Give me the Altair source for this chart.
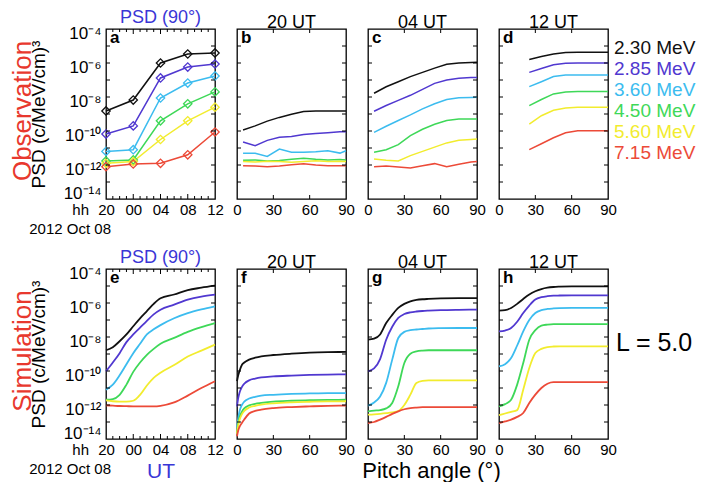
import altair as alt
import pandas as pd

FONT = "Liberation Sans"
ENERGIES = ["2.30 MeV", "2.85 MeV", "3.60 MeV", "4.50 MeV", "5.60 MeV", "7.15 MeV"]
COLORS = ["#111111", "#5038d0", "#3cbcef", "#3ed858", "#f2ec2e", "#ec4a38"]
BLUE = "#3a36d6"
RED = "#e8382e"

# ---- panel a: observed PSD at 90 deg vs time (log10 PSD) ----
A_HOURS = [20, 24, 28, 32, 36]
A_LOG = {
    "2.30 MeV": [-8.82, -8.18, -6.0, -5.47, -5.41],
    "2.85 MeV": [-10.18, -9.7, -6.88, -6.24, -6.06],
    "3.60 MeV": [-11.2, -11.1, -8.06, -7.18, -6.76],
    "4.50 MeV": [-11.76, -11.7, -9.4, -8.4, -7.7],
    "5.60 MeV": [-11.9, -11.8, -10.5, -9.4, -8.6],
    "7.15 MeV": [-12.1, -11.94, -11.9, -11.4, -10.06],
}
# ---- panel b: observed, 20 UT ----
B_PITCH = [5, 15, 25, 35, 45, 55, 65, 75, 85, 90]
B_LOG = {
    "2.30 MeV": [-9.94, -9.7, -9.42, -9.2, -9.02, -8.86, -8.82, -8.82, -8.82, -8.82],
    "2.85 MeV": [-10.65, -10.86, -10.55, -10.37, -10.33, -10.2, -10.15, -10.1, -10.05, -10.04],
    "3.60 MeV": [-11.31, -11.31, -11.5, -11.06, -11.25, -11.25, -11.22, -11.16, -11.3, -11.16],
    "4.50 MeV": [-11.72, -11.7, -11.76, -11.74, -11.66, -11.6, -11.66, -11.7, -11.68, -11.7],
    "5.60 MeV": [-11.8, -11.82, -11.78, -11.8, -11.84, -11.8, -11.75, -11.8, -11.78, -11.8],
    "7.15 MeV": [-12.04, -12.06, -12.1, -12.06, -11.98, -11.92, -12.0, -12.04, -12.04, -12.04],
}
# ---- panel c: observed, 04 UT ----
C_PITCH = [5, 15, 25, 35, 45, 55, 65, 75, 85, 90]
C_LOG = {
    "2.30 MeV": [-7.78, -7.4, -7.1, -6.8, -6.55, -6.3, -6.08, -6.0, -5.97, -5.96],
    "2.85 MeV": [-8.84, -8.5, -8.2, -7.9, -7.55, -7.2, -7.0, -6.9, -6.86, -6.85],
    "3.60 MeV": [-10.08, -9.72, -9.38, -9.05, -8.7, -8.4, -8.15, -8.05, -8.03, -8.02],
    "4.50 MeV": [-11.25, -11.1, -10.8, -10.27, -9.9, -9.6, -9.38, -9.3, -9.3, -9.3],
    "5.60 MeV": [-11.65, -11.72, -11.76, -11.45, -11.2, -10.95, -10.7, -10.55, -10.5, -10.47],
    "7.15 MeV": [-12.1, -12.06, -12.12, -12.18, -12.05, -11.92, -12.1, -11.95, -11.82, -11.8],
}
# ---- panel d: observed, 12 UT ----
D_PITCH = [25, 35, 45, 55, 65, 75, 90]
D_LOG = {
    "2.30 MeV": [-5.8, -5.62, -5.47, -5.38, -5.37, -5.37, -5.37],
    "2.85 MeV": [-6.55, -6.32, -6.1, -6.02, -6.0, -6.0, -6.0],
    "3.60 MeV": [-7.39, -7.1, -6.8, -6.7, -6.7, -6.7, -6.7],
    "4.50 MeV": [-8.51, -8.15, -7.82, -7.7, -7.67, -7.67, -7.67],
    "5.60 MeV": [-9.6, -9.1, -8.78, -8.65, -8.6, -8.6, -8.6],
    "7.15 MeV": [-11.1, -10.75, -10.4, -10.1, -9.98, -9.98, -9.98],
}
# ---- panel e: simulated PSD at 90 deg vs time ----
E_HOURS = [20, 21, 22, 23, 24, 25, 26, 27, 28, 30, 32, 34, 36]
E_LOG = {
    "2.30 MeV": [-8.78, -8.6, -8.25, -7.85, -7.37, -6.9, -6.48, -6.05, -5.72, -5.5, -5.24, -5.1, -4.98],
    "2.85 MeV": [-10.02, -9.5, -8.95, -8.3, -7.85, -7.45, -7.05, -6.67, -6.4, -6.1, -5.8, -5.62, -5.51],
    "3.60 MeV": [-11.1, -10.8, -10.25, -9.6, -8.95, -8.4, -7.85, -7.55, -7.3, -6.9, -6.6, -6.38, -6.2],
    "4.50 MeV": [-11.69, -11.65, -11.4, -10.8, -10.05, -9.5, -9.05, -8.7, -8.4, -8.05, -7.7, -7.42, -7.18],
    "5.60 MeV": [-11.73, -11.78, -11.8, -11.8, -11.75, -11.4, -10.85, -10.4, -10.1, -9.65, -9.15, -8.8, -8.45],
    "7.15 MeV": [-12.02, -12.04, -12.06, -12.07, -12.08, -12.08, -12.08, -12.08, -12.05, -11.85, -11.45, -11.0, -10.6],
}
# ---- panel f: simulated, 20 UT ----
F_PITCH = [0, 1, 2, 4, 6, 10, 15, 20, 30, 45, 60, 75, 90]
F_LOG = {
    "2.30 MeV": [-10.6, -10.25, -10.02, -9.65, -9.5, -9.33, -9.22, -9.14, -9.06, -8.98, -8.92, -8.89, -8.88],
    "2.85 MeV": [-12.08, -11.6, -11.3, -10.95, -10.75, -10.55, -10.45, -10.38, -10.32, -10.27, -10.23, -10.21, -10.2],
    "3.60 MeV": [-13.35, -12.8, -12.4, -12.0, -11.8, -11.62, -11.52, -11.45, -11.4, -11.35, -11.32, -11.3, -11.3],
    "4.50 MeV": [-13.65, -13.1, -12.75, -12.4, -12.2, -12.02, -11.93, -11.88, -11.8, -11.75, -11.72, -11.7, -11.69],
    "5.60 MeV": [-13.7, -13.2, -12.9, -12.55, -12.35, -12.15, -12.05, -11.98, -11.9, -11.84, -11.81, -11.79, -11.78],
    "7.15 MeV": [-13.84, -13.5, -13.3, -13.06, -12.85, -12.5, -12.35, -12.27, -12.18, -12.12, -12.08, -12.05, -12.04],
}
# ---- panel g: simulated, 04 UT ----
G_PITCH = [0, 5, 10, 15, 20, 25, 30, 35, 40, 45, 50, 60, 75, 90]
G_LOG = {
    "2.30 MeV": [-8.16, -8.1, -7.85, -7.18, -6.7, -6.29, -6.05, -5.9, -5.82, -5.78, -5.76, -5.73, -5.71, -5.71],
    "2.85 MeV": [-10.02, -9.85, -9.3, -8.16, -7.4, -6.88, -6.65, -6.55, -6.5, -6.47, -6.45, -6.42, -6.4, -6.39],
    "3.60 MeV": [-12.04, -11.85, -11.5, -10.7, -9.33, -8.06, -7.7, -7.6, -7.56, -7.53, -7.5, -7.48, -7.47, -7.47],
    "4.50 MeV": [-12.37, -12.33, -12.3, -12.2, -11.88, -10.9, -9.53, -8.98, -8.85, -8.8, -8.78, -8.78, -8.78, -8.78],
    "5.60 MeV": [-12.57, -12.55, -12.52, -12.48, -12.43, -12.35, -12.0, -11.39, -10.7, -10.58, -10.55, -10.55, -10.55, -10.55],
    "7.15 MeV": [-13.06, -13.0, -12.86, -12.7, -12.52, -12.37, -12.25, -12.18, -12.15, -12.13, -12.12, -12.12, -12.12, -12.12],
}
# ---- panel h: simulated, 12 UT ----
H_PITCH = [0, 5, 10, 15, 20, 25, 30, 35, 40, 45, 50, 60, 75, 90]
H_LOG = {
    "2.30 MeV": [-6.45, -6.42, -6.29, -6.05, -5.76, -5.5, -5.31, -5.18, -5.1, -5.06, -5.04, -5.02, -5.02, -5.02],
    "2.85 MeV": [-7.67, -7.62, -7.47, -7.1, -6.59, -6.15, -5.8, -5.66, -5.6, -5.57, -5.56, -5.55, -5.55, -5.55],
    "3.60 MeV": [-9.73, -9.6, -9.24, -8.5, -7.67, -7.0, -6.59, -6.42, -6.35, -6.32, -6.3, -6.29, -6.29, -6.29],
    "4.50 MeV": [-12.08, -11.95, -11.69, -10.8, -9.53, -8.16, -7.6, -7.33, -7.27, -7.24, -7.24, -7.24, -7.24, -7.24],
    "5.60 MeV": [-12.6, -12.5, -12.4, -12.3, -11.1, -9.82, -8.94, -8.7, -8.59, -8.56, -8.55, -8.55, -8.55, -8.55],
    "7.15 MeV": [-13.06, -12.97, -12.86, -12.7, -12.47, -11.88, -11.39, -11.0, -10.75, -10.66, -10.66, -10.66, -10.66, -10.66],
}

TIME_LABELS = [20, 24, 28, 32, 36]
TIME_MAJOR = [24, 28, 32]
TIME_MINOR = [21, 22, 23, 25, 26, 27, 29, 30, 31, 33, 34, 35]
PITCH_LABELS = [0, 30, 60, 90]
PITCH_TICKS = [30, 60]
Y_LABELS = [1e-14, 1e-12, 1e-10, 1e-8, 1e-6, 1e-4]
Y_TICKS = [1e-13, 1e-12, 1e-11, 1e-10, 1e-9, 1e-8, 1e-7, 1e-6, 1e-5]
ROW_NAMES = ["Observation", "Simulation"]
TITLES_TOP = ["PSD (90°)", "20 UT", "04 UT", "12 UT"]


def long_df(xs, logs):
    rows = []
    for e, vals in logs.items():
        for x, v in zip(xs, vals):
            rows.append({"x": x, "psd": 10.0 ** v, "energy": e})
    return pd.DataFrame(rows)


W, H = 109, 170
YSCALE = alt.Scale(type="log", domain=[1e-14, 1e-4], nice=False)
CSCALE = alt.Scale(domain=ENERGIES, range=COLORS)
TIME_SCALE = alt.Scale(domain=[20, 36], nice=False, zero=False)
PITCH_SCALE = alt.Scale(domain=[0, 90], nice=False, zero=False)

SUP = {"-": "⁻", "0": "⁰", "1": "¹", "2": "²", "4": "⁴", "6": "⁶", "8": "⁸"}


def sup(k):
    return "".join(SUP[c] for c in str(k))


Y_EXPR = "".join(f"datum.value < 1e{k + 1} ? '10{sup(k)}' : " for k in [-14, -12, -10, -8, -6]) + f"'10{sup(-4)}'"
TIME_EXPR = "(datum.value % 24 < 10 ? '0' : '') + (datum.value % 24)"


def panel(df, kind, letter, title, title_color, first, sim, row_label=None,
          x_title=None, x_title_color="black", x_title_size=21, x_title_x=None):
    common = dict(grid=False, ticks=False, domain=False, labelFont=FONT, labelFontSize=15,
                  labelColor="black", labelPadding=3, labelFlush=False, labelOverlap=False)
    tkw = dict(title=None)
    if x_title:
        tkw = dict(title=x_title, titleFont=FONT, titleFontSize=x_title_size, titleFontWeight="normal",
                   titleColor=x_title_color, titlePadding=3)
        if x_title_x is not None:
            tkw["titleX"] = x_title_x
    if kind == "time":
        xscale = TIME_SCALE
        xaxis = alt.Axis(values=TIME_LABELS, labelExpr=TIME_EXPR, **common, **tkw)
    else:
        xscale = PITCH_SCALE
        xaxis = alt.Axis(values=PITCH_LABELS, **common, **tkw)
    if first:
        yaxis = alt.Axis(values=Y_LABELS, labelExpr=Y_EXPR, grid=False, ticks=False, domain=False,
                         labelFont=FONT, labelFontSize=17, labelColor="black", labelPadding=5,
                         labelOffset={"condition": {"test": "datum.value < 1e-13", "value": -6}, "value": 4},
                         labelOverlap=False, labelFlush=False,
                         title="PSD (c/MeV/cm)³", titleFont=FONT, titleFontSize=19,
                         titleFontWeight="normal", titleColor="black", titlePadding=15)
    else:
        yaxis = None
    xe = alt.X("x:Q", scale=xscale, axis=xaxis)
    ye = alt.Y("psd:Q", scale=YSCALE, axis=yaxis)
    col = alt.Color("energy:N", scale=CSCALE, legend=None)

    layers = []
    if sim:
        layers.append(alt.Chart(df).mark_line(strokeWidth=1.8, interpolate="monotone").encode(x=xe, y=ye, color=col))
    else:
        layers.append(alt.Chart(df).mark_line(strokeWidth=1.5).encode(x=xe, y=ye, color=col))
        if kind == "time":
            layers.append(alt.Chart(df).mark_point(shape="diamond", filled=False, size=70, strokeWidth=1.3,
                                                   opacity=1).encode(x=xe, y=ye, color=col))
    # inward ticks on all four sides
    yt = pd.DataFrame({"psd": Y_TICKS})
    layers.append(alt.Chart(yt).mark_rule(color="black", strokeWidth=1).encode(y=ye, x=alt.value(0), x2=alt.value(4)))
    layers.append(alt.Chart(yt).mark_rule(color="black", strokeWidth=1).encode(y=ye, x=alt.value(W - 4), x2=alt.value(W)))
    if kind == "time":
        tick_sets = [(TIME_MAJOR, 5), (TIME_MINOR, 3)]
    else:
        tick_sets = [(PITCH_TICKS, 4)]
    for vals, ln in tick_sets:
        xt = pd.DataFrame({"x": vals})
        layers.append(alt.Chart(xt).mark_rule(color="black", strokeWidth=1).encode(x=xe, y=alt.value(H - ln), y2=alt.value(H)))
        layers.append(alt.Chart(xt).mark_rule(color="black", strokeWidth=1).encode(x=xe, y=alt.value(0), y2=alt.value(ln)))
    # panel letter
    layers.append(alt.Chart(pd.DataFrame({"t": [letter]})).mark_text(
        font=FONT, fontSize=17, fontWeight="bold", align="left", baseline="alphabetic", color="black"
    ).encode(text="t:N", x=alt.value(4), y=alt.value(14)))
    if first:
        layers.append(alt.Chart(pd.DataFrame({"t": [row_label]})).mark_text(
            font=FONT, fontSize=26, angle=270, color=RED, baseline="middle", align="center"
        ).encode(text="t:N", x=alt.value(-83.5), y=alt.value(H / 2 - 3)))
        layers.append(alt.Chart(pd.DataFrame({"t": ["hh"]})).mark_text(
            font=FONT, fontSize=15, align="right", baseline="alphabetic", color="black"
        ).encode(text="t:N", x=alt.value(-17), y=alt.value(H + 16)))
        layers.append(alt.Chart(pd.DataFrame({"t": ["2012 Oct 08"]})).mark_text(
            font=FONT, fontSize=15, align="right", baseline="alphabetic", color="black"
        ).encode(text="t:N", x=alt.value(5), y=alt.value(H + 35)))
    return alt.layer(*layers).properties(
        width=W, height=H,
        title=alt.TitleParams(title, font=FONT, fontSize=18, fontWeight="normal", color=title_color,
                              offset=-3, anchor="middle"),
        view=alt.ViewBackground(stroke="black", strokeWidth=1.3),
    )


pa = panel(long_df(A_HOURS, A_LOG), "time", "a", TITLES_TOP[0], BLUE, True, False, ROW_NAMES[0])
pb = panel(long_df(B_PITCH, B_LOG), "pitch", "b", TITLES_TOP[1], "black", False, False)
pc = panel(long_df(C_PITCH, C_LOG), "pitch", "c", TITLES_TOP[2], "black", False, False)
pd_ = panel(long_df(D_PITCH, D_LOG), "pitch", "d", TITLES_TOP[3], "black", False, False)
pe = panel(long_df(E_HOURS, E_LOG), "time", "e", TITLES_TOP[0], BLUE, True, True, ROW_NAMES[1],
           x_title="UT", x_title_color=BLUE, x_title_size=21)
pf = panel(long_df(F_PITCH, F_LOG), "pitch", "f", TITLES_TOP[1], "black", False, True)
pg = panel(long_df(G_PITCH, G_LOG), "pitch", "g", TITLES_TOP[2], "black", False, True,
           x_title="Pitch angle (°)", x_title_size=22, x_title_x=63)
ph = panel(long_df(H_PITCH, H_LOG), "pitch", "h", TITLES_TOP[3], "black", False, True)

legend = alt.Chart(pd.DataFrame({"energy": ENERGIES})).mark_text(
    align="left", baseline="middle", fontSize=19, font=FONT
).encode(
    x=alt.value(-16),
    y=alt.Y("energy:N", sort=ENERGIES, axis=None, scale=alt.Scale(range=[19, 124], padding=0)),
    text="energy:N",
    color=alt.Color("energy:N", scale=CSCALE, legend=None),
).properties(width=60, height=H, view=alt.ViewBackground(stroke="transparent"))

lshell = alt.Chart(pd.DataFrame({"t": ["L = 5.0"]})).mark_text(
    align="left", baseline="middle", fontSize=25, font=FONT, color="black"
).encode(text="t:N", x=alt.value(-14), y=alt.value(74)).properties(
    width=60, height=H, view=alt.ViewBackground(stroke="transparent"))

chart = alt.concat(
    pa, pb, pc, pd_, legend, pe, pf, pg, ph, lshell,
    columns=5, spacing={"row": 70, "column": 22}, bounds="flush",
).properties(
    padding={"left": 0, "top": 0, "right": 0, "bottom": 0}, background="white"
).configure_view(stroke="transparent")

chart.save("out.html", embed_options={"renderer": "svg", "actions": False})
